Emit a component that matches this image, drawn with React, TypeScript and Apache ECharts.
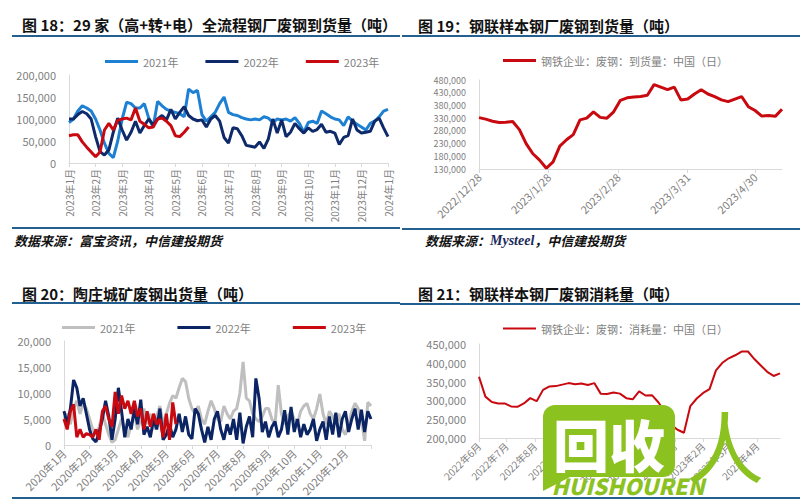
import React, { useEffect, useRef } from "react";
import * as echarts from "echarts";

const FONT = '"Noto Sans CJK SC", "Noto Sans", sans-serif';
const LABEL_GRAY = "#7f7f7f";
const AXIS_GRAY = "#d9d9d9";
const RULE_BLUE = "#24608f";
const GREEN = "#8cc21f";

// ---------- 图18: 29家全流程钢厂废钢到货量 (thousand tons, one value every 1/6 month) ----------
const arrivalMonthLabels = [
  "2023年1月", "2023年2月", "2023年3月", "2023年4月", "2023年5月", "2023年6月", "2023年7月",
  "2023年8月", "2023年9月", "2023年10月", "2023年11月", "2023年12月", "2024年1月",
];
const arrivalStep = 1 / 6;
const arrival2021 = [
  92, 100, 118, 130, 125, 118, 100, 75, 45, 22, 12, 50, 100, 138, 135, 125, 125, 135, 102, 82,
  140, 130, 122, 118, 115, 112, 105, 168, 160, 165, 110, 95, 105, 115, 135, 150, 115, 110, 108, 103,
  100, 98, 100, 98, 105, 102, 92, 100, 98, 100, 95, 103, 90, 70, 92, 95, 90, 118, 112, 105,
  100, 98, 85, 105, 95, 88, 82, 75, 90, 95, 105, 118, 122,
];
const arrival2022 = [
  100, 100, 110, 117, 112, 100, 60, 26, 18, 30, 70, 102, 75, 52, 70, 95, 68, 85, 100, 86,
  100, 108, 98, 122, 100, 115, 128, 108, 100, 96, 98, 82, 100, 108, 95, 58, 45, 80, 78, 62,
  40, 38, 36, 48, 33, 55, 100, 68, 98, 60, 70, 90, 78, 68, 80, 72, 76, 88, 70, 72,
  68, 42, 58, 62, 100, 75, 68, 70, 72, 95, 102, 80, 60,
];
const arrival2023 = [
  62, 64, 64, 48, 36, 25, 14, 25, 75, 90, 75, 97, 100, 102, 98, 125, 95, 88, 80, 82,
  100, 102, 95, 85, 62, 60, 70, 82,
];

// ---------- 图19: 钢联样本钢厂废钢到货量 (thousand tons, every 3 days from 2022-12-28) ----------
const arrivalMsStart = [2022, 12, 28];
const arrivalMsDays = 136;
const arrivalMsLabelDates = ["2022/12/28", "2023/1/28", "2023/2/28", "2023/3/31", "2023/4/30"];
const arrivalMsEvery = 3;
const arrivalMs = [
  332, 326, 318, 313, 314, 317, 285, 230, 190, 165, 133, 158, 220, 245, 265, 323, 330, 355, 333, 330,
  355, 400, 410, 413, 415, 420, 462, 452, 442, 452, 401, 405, 425, 442, 425, 415, 402, 395, 405, 415,
  375, 360, 338, 340, 337, 365,
];

// ---------- 图20: 陶庄城矿废钢出货量 (thousand tons, one value every 1/8 month) ----------
const shipMonthLabels = [
  "2020年1月", "2020年2月", "2020年3月", "2020年4月", "2020年5月", "2020年6月",
  "2020年7月", "2020年8月", "2020年9月", "2020年10月", "2020年11月", "2020年12月", "",
];
const shipStep = 1 / 8;
const ship2021 = [
  5, 6, 4, 7, 8.5, 6, 8, 7, 5, 3, 2, 3.5, 6, 4, 2, 0.5, 1, 3, 5, 3,
  1.5, 4, 6, 3, 5, 7, 4, 6, 3, 5.5, 7.5, 4, 6, 8, 9.5, 9, 11, 12.8, 12.2, 9,
  7, 6, 7.5, 5, 4, 6.5, 8.5, 7, 5, 4.5, 7.5, 6, 5, 6.5, 7, 10, 16, 9, 8.5, 6,
  5, 4.5, 5.5, 7, 7, 5, 4, 11.5, 6, 4, 5.5, 6.5, 5, 4, 6.5, 7.5, 8, 6, 5, 7,
  9.8, 6, 4, 6.5, 5.5, 4, 6, 3, 2, 4, 6.5, 8, 7, 5, 0.8, 8.2, 7.5,
];
const ship2022 = [
  6.5, 4, 7, 12.5, 11, 7.5, 9, 6, 3, 1.2, 0.6, 2.5, 5, 8.5, 5.5, 1, 5, 11, 6.5, 1.5,
  5, 3, 7, 4, 8.7, 2, 3.5, 1.5, 5, 3, 7, 1, 2, 4, 1.5, 3, 6, 2.5, 5.5, 2,
  1.2, 7, 6, 3, 0.5, 3.5, 1, 5, 6.5, 3, 1, 4, 2, 5, 1, 6.2, 0.3, 3.5, 5.5, 1.5,
  12.8, 9, 2.5, 4.5, 1.5, 3.5, 4.5, 1.5, 3, 6.7, 2, 7.3, 2.5, 5, 1.5, 4, 2, 3, 5, 0.8,
  3, 4.5, 1, 5.5, 2, 6.2, 1.5, 5, 6.5, 2.5, 5, 7, 3, 6.8, 2.5, 6.5, 5,
];
const ship2023 = [
  5, 3, 6.5, 7.8, 1.5, 3, 1.5, 2.2, 2, 1.5, 3, 1, 6.5, 7.5, 5, 3.5, 10.2, 6, 9.5, 7,
  8.5, 6, 8.5, 5.5, 7, 3, 6.5, 3.5, 6, 4, 5, 1.5, 6, 1, 8.2, 4,
];

// ---------- 图21: 钢联样本钢厂废钢消耗量 (thousand tons, every 7 days from 2022-06-01) ----------
const consumeStart = [2022, 6, 1];
const consumeDays = 330;
const consumeEvery = 7;
const consumption = [
  363, 310, 296, 292, 292, 284, 283, 292, 306, 298, 328, 337, 338, 342, 346, 343, 345, 341, 346, 318,
  317, 321, 318, 306, 303, 324, 313, 314, 295, 270, 235, 222, 214, 285, 305, 320, 330, 380, 400, 412,
  420, 430, 430, 410, 393, 376, 365, 372,
];

// ---------- helpers ----------
const fmtThousands = (v: number) => Math.round(v).toLocaleString("en-US");

function dayList(start: number[], n: number) {
  const out: { y: number; m: number; d: number }[] = [];
  for (let i = 0; i < n; i++) {
    const dt = new Date(Date.UTC(start[0], start[1] - 1, start[2] + i));
    out.push({ y: dt.getUTCFullYear(), m: dt.getUTCMonth() + 1, d: dt.getUTCDate() });
  }
  return out;
}

const titleText = (x: number, y: number, text: string) => ({
  type: "text",
  z: 100,
  style: {
    text,
    x,
    y,
    fill: "#111",
    font: `bold 15px ${FONT}`,
    textVerticalAlign: "middle",
    verticalAlign: "middle",
  },
});

const rule = (x1: number, x2: number, y: number) => ({
  type: "line",
  z: 100,
  shape: { x1, y1: y, x2, y2: y },
  style: { stroke: RULE_BLUE, lineWidth: 2 },
});

const sourceText = (x: number, y: number, parts: [string, string][]) => ({
  type: "text",
  z: 100,
  style: {
    x,
    y,
    text: parts.map(([k, t]) => `{${k}|${t}}`).join(""),
    textVerticalAlign: "middle",
    verticalAlign: "middle",
    rich: {
      c: { font: `italic bold 13px ${FONT}`, fill: "#111" },
      s: { font: `italic bold 14px "Liberation Serif", serif`, fill: "#1a2a5a" },
    },
  },
});

const baseValueY = (min: number, max: number, interval: number, fontSize = 11) => ({
  type: "value",
  min,
  max,
  interval,
  axisLine: { show: true, lineStyle: { color: AXIS_GRAY } },
  axisTick: { show: false },
  splitLine: { show: false },
  axisLabel: {
    fontSize,
    lineHeight: fontSize + 1,
    color: LABEL_GRAY,
    margin: 13,
    formatter: fmtThousands,
  },
});

const lineSeries = (name: string, color: string, width: number, data: any[]) => ({
  name,
  type: "line",
  data,
  showSymbol: false,
  symbol: "none",
  lineStyle: { color, width },
  itemStyle: { color },
});

// ---------- options ----------
function option18() {
  const toData = (arr: number[]) => arr.map((v, i) => [i * arrivalStep, v * 1000]);
  return {
    animation: false,
    textStyle: { fontFamily: FONT },
    grid: { left: 69, right: 12, top: 75, bottom: 87 },
    legend: {
      left: 100,
      top: 51,
      icon: "rect",
      itemWidth: 33,
      itemHeight: 3,
      itemGap: 27,
      textStyle: { fontSize: 11, color: LABEL_GRAY },
      data: ["2021年", "2022年", "2023年"],
    },
    xAxis: {
      type: "value",
      min: 0,
      max: 12,
      interval: 1,
      axisLine: { show: true, lineStyle: { color: AXIS_GRAY } },
      axisTick: { show: true, length: 4, lineStyle: { color: AXIS_GRAY } },
      splitLine: { show: false },
      axisLabel: {
        rotate: 90,
        fontSize: 10,
        color: LABEL_GRAY,
        margin: 6,
        formatter: (v: number) => arrivalMonthLabels[Math.round(v)] ?? "",
      },
    },
    yAxis: baseValueY(0, 200000, 50000),
    series: [
      lineSeries("2021年", "#1d80d3", 3, toData(arrival2021)),
      lineSeries("2022年", "#0e2a6a", 3, toData(arrival2022)),
      lineSeries("2023年", "#c8090f", 3, toData(arrival2023)),
    ],
    graphic: [
      titleText(22, 24, "图 18：29 家（高+转+电）全流程钢厂废钢到货量（吨）"),
      rule(12, 400, 36),
      rule(12, 400, 228),
      sourceText(14, 240, [["c", "数据来源：富宝资讯，中信建投期货"]]),
    ],
  };
}

function option19() {
  const days = dayList(arrivalMsStart, arrivalMsDays).map((d) => `${d.y}/${d.m}/${d.d}`);
  const show = (_i: number, v: string) => arrivalMsLabelDates.includes(v);
  return {
    animation: false,
    textStyle: { fontFamily: FONT },
    grid: { left: 79, right: 18, top: 80, bottom: 81 },
    legend: {
      left: 98,
      top: 50,
      icon: "rect",
      itemWidth: 33,
      itemHeight: 3,
      textStyle: { fontSize: 11, color: LABEL_GRAY },
      data: ["钢铁企业：废钢：到货量：中国（日）"],
    },
    xAxis: {
      type: "category",
      data: days,
      boundaryGap: false,
      axisLine: { show: true, lineStyle: { color: AXIS_GRAY } },
      axisTick: { show: true, interval: show, length: 4, lineStyle: { color: AXIS_GRAY } },
      axisLabel: { interval: show, rotate: 45, fontSize: 11, color: LABEL_GRAY, margin: 6 },
    },
    yAxis: baseValueY(130000, 480000, 50000, 9),
    series: [
      lineSeries(
        "钢铁企业：废钢：到货量：中国（日）",
        "#c8090f",
        3,
        arrivalMs.map((v, i) => [i * arrivalMsEvery, v * 1000])
      ),
    ],
    graphic: [
      titleText(18, 25, "图 19：钢联样本钢厂废钢到货量（吨）"),
      rule(2, 400, 36),
      rule(2, 400, 229),
      sourceText(25, 240, [["c", "数据来源："], ["s", "Mysteel"], ["c", "，中信建投期货"]]),
    ],
  };
}

function option20() {
  const toData = (arr: number[]) => arr.map((v, i) => [i * shipStep, v * 1000]);
  return {
    animation: false,
    textStyle: { fontFamily: FONT },
    grid: { left: 64, right: 29, top: 91, bottom: 55 },
    legend: {
      left: 57,
      top: 67,
      icon: "rect",
      itemWidth: 33,
      itemHeight: 3,
      itemGap: 42,
      textStyle: { fontSize: 11, color: LABEL_GRAY },
      data: ["2021年", "2022年", "2023年"],
    },
    xAxis: {
      type: "value",
      min: 0,
      max: 12,
      interval: 1,
      axisLine: { show: true, lineStyle: { color: AXIS_GRAY } },
      axisTick: { show: true, length: 4, lineStyle: { color: AXIS_GRAY } },
      splitLine: { show: false },
      axisLabel: {
        rotate: 45,
        fontSize: 11,
        color: LABEL_GRAY,
        margin: 6,
        formatter: (v: number) => shipMonthLabels[Math.round(v)] ?? "",
      },
    },
    yAxis: baseValueY(0, 20000, 5000),
    series: [
      lineSeries("2021年", "#bfbfbf", 3, toData(ship2021)),
      lineSeries("2022年", "#0b2463", 3, toData(ship2022)),
      lineSeries("2023年", "#c8090f", 3, toData(ship2023)),
    ],
    graphic: [
      titleText(22, 43, "图 20：陶庄城矿废钢出货量（吨）"),
      rule(12, 400, 53),
      rule(12, 400, 248),
    ],
  };
}

function option21() {
  const days = dayList(consumeStart, consumeDays);
  const names = days.map((d) => `${d.y}/${d.m}/${d.d}`);
  const show = (i: number) => days[i] && days[i].d === 1;
  return {
    animation: false,
    textStyle: { fontFamily: FONT },
    grid: { left: 79, right: 20, top: 94, bottom: 62 },
    legend: {
      left: 98,
      top: 68,
      icon: "rect",
      itemWidth: 33,
      itemHeight: 2,
      textStyle: { fontSize: 11, color: LABEL_GRAY },
      data: ["钢铁企业：废钢：消耗量：中国（日）"],
    },
    xAxis: {
      type: "category",
      data: names,
      boundaryGap: false,
      axisLine: { show: true, lineStyle: { color: AXIS_GRAY } },
      axisTick: { show: true, interval: show, length: 4, lineStyle: { color: AXIS_GRAY } },
      axisLabel: {
        interval: show,
        rotate: 45,
        fontSize: 10,
        color: LABEL_GRAY,
        margin: 6,
        formatter: (v: string) => {
          const [y, m] = v.split("/");
          return `${y}年${m}月`;
        },
      },
    },
    yAxis: baseValueY(200000, 450000, 50000),
    series: [
      lineSeries(
        "钢铁企业：废钢：消耗量：中国（日）",
        "#c8090f",
        2,
        consumption.map((v, i) => [i * consumeEvery, v * 1000])
      ),
    ],
    graphic: [
      titleText(18, 43, "图 21：钢联样本钢厂废钢消耗量（吨）"),
      rule(0, 400, 54),
      rule(0, 400, 248),
      // watermark
      {
        type: "rect",
        z: 200,
        shape: { x: 143, y: 155, width: 132, height: 72, r: 12 },
        style: { fill: GREEN },
      },
      {
        type: "polygon",
        z: 200,
        shape: { points: [[143, 205], [143, 241], [172, 226]] },
        style: { fill: GREEN },
      },
      {
        type: "text",
        z: 201,
        style: {
          text: "回收",
          x: 209,
          y: 192,
          fill: "#fff",
          font: `900 56px ${FONT}`,
          textAlign: "center",
          align: "center",
          textVerticalAlign: "middle",
          verticalAlign: "middle",
        },
      },
      {
        type: "text",
        z: 201,
        style: {
          text: "人",
          x: 325,
          y: 194,
          fill: GREEN,
          font: `normal 78px ${FONT}`,
          textAlign: "center",
          align: "center",
          textVerticalAlign: "middle",
          verticalAlign: "middle",
        },
      },
      {
        type: "text",
        z: 201,
        style: {
          text: "HUISHOUREN",
          x: 228,
          y: 235,
          fill: GREEN,
          font: `italic 900 22px ${FONT}`,
          textAlign: "center",
          align: "center",
          textVerticalAlign: "middle",
          verticalAlign: "middle",
        },
      },
    ],
  };
}

function Panel({ option, left, top }: { option: any; left: number; top: number }) {
  const ref = useRef<HTMLDivElement>(null);
  useEffect(() => {
    if (!ref.current) return;
    const chart = echarts.init(ref.current, undefined, { renderer: "svg" });
    chart.setOption(option);
    return () => chart.dispose();
  }, [option]);
  return <div ref={ref} style={{ position: "absolute", left, top, width: 400, height: 250 }} />;
}

const opts = [option18(), option19(), option20(), option21()];

export default function App() {
  return (
    <div style={{ position: "fixed", left: 0, top: 0, width: 800, height: 500, background: "#fff" }}>
      <Panel option={opts[0]} left={0} top={0} />
      <Panel option={opts[1]} left={400} top={0} />
      <Panel option={opts[2]} left={0} top={250} />
      <Panel option={opts[3]} left={400} top={250} />
    </div>
  );
}
